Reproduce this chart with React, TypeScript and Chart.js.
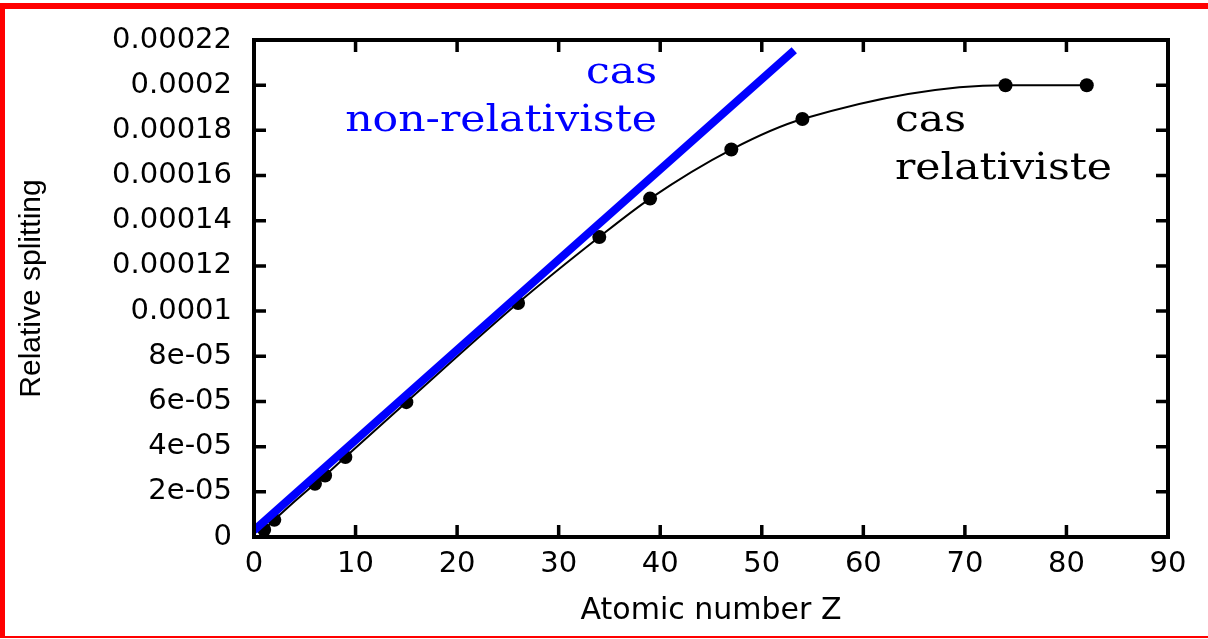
import React, { useEffect, useRef } from 'react';
import { Chart, registerables } from 'chart.js';

Chart.register(...registerables);

// Relativistic case: measured points (atomic number Z, relative splitting)
const atomicNumbers = [1, 2, 6, 7, 9, 15, 26, 34, 39, 47, 54, 74, 82];
const relativeSplitting = [
  3.2e-6, 7.6e-6, 2.36e-5, 2.72e-5, 3.54e-5, 5.97e-5, 1.036e-4, 1.328e-4,
  1.498e-4, 1.715e-4, 1.85e-4, 2.0e-4, 2.0e-4,
];

// Non-relativistic case: straight line
const nonRelZ = [0, 53.2];
const nonRelValues = [2.9e-6, 2.155e-4];

const xTickValues = [0, 10, 20, 30, 40, 50, 60, 70, 80, 90];
const yTickValues = [
  0, 2e-5, 4e-5, 6e-5, 8e-5, 1e-4, 1.2e-4, 1.4e-4, 1.6e-4, 1.8e-4, 2e-4, 2.2e-4,
];
const yTickLabels = [
  '0', '2e-05', '4e-05', '6e-05', '8e-05', '0.0001', '0.00012', '0.00014',
  '0.00016', '0.00018', '0.0002', '0.00022',
];

const blueLabel = ['cas', 'non-relativiste'];
const blackLabel = ['cas', 'relativiste'];

const BLUE = '#0000ff';

const framePlugin = {
  id: 'frameTicks',
  afterDatasetsDraw(chart: any) {
    const { ctx, chartArea, scales } = chart;
    const { left, right, top, bottom } = chartArea;
    const x = scales.x;
    const y = scales.y;
    ctx.save();
    ctx.strokeStyle = '#000';
    ctx.lineWidth = 3.5;
    ctx.beginPath();
    const len = 12;
    xTickValues.forEach((v) => {
      const px = x.getPixelForValue(v);
      ctx.moveTo(px, bottom);
      ctx.lineTo(px, bottom - len);
      ctx.moveTo(px, top);
      ctx.lineTo(px, top + len);
    });
    yTickValues.forEach((v) => {
      const py = y.getPixelForValue(v);
      ctx.moveTo(left, py);
      ctx.lineTo(left + len, py);
      ctx.moveTo(right, py);
      ctx.lineTo(right - len, py);
    });
    ctx.stroke();
    ctx.lineWidth = 4;
    ctx.strokeRect(left, top, right - left, bottom - top);

    // annotations
    const sx = 1.12;
    ctx.font = "38px 'DejaVu Serif'";
    ctx.textBaseline = 'alphabetic';
    ctx.fillStyle = BLUE;
    ctx.textAlign = 'right';
    blueLabel.forEach((t, i) => {
      ctx.save();
      ctx.translate(left + 403, top + 43 + i * 48);
      ctx.scale(sx, 1);
      ctx.fillText(t, 0, 0);
      ctx.restore();
    });
    ctx.fillStyle = '#000';
    ctx.textAlign = 'left';
    blackLabel.forEach((t, i) => {
      ctx.save();
      ctx.translate(left + 641, top + 91 + i * 48);
      ctx.scale(sx, 1);
      ctx.fillText(t, 0, 0);
      ctx.restore();
    });
    ctx.restore();
  },
};

export default function App() {
  const ref = useRef<HTMLCanvasElement>(null);
  useEffect(() => {
    if (!ref.current) return;
    const chart = new Chart(ref.current, {
      type: 'line',
      data: {
        datasets: [
          {
            label: 'non-relativiste',
            data: nonRelZ.map((z, i) => ({ x: z, y: nonRelValues[i] })),
            borderColor: BLUE,
            borderWidth: 8,
            pointRadius: 0,
            borderCapStyle: 'butt',
            order: 0,
          },
          {
            label: 'relativiste',
            data: atomicNumbers.map((z, i) => ({ x: z, y: relativeSplitting[i] })),
            borderColor: '#000',
            borderWidth: 2,
            pointRadius: 7,
            pointBackgroundColor: '#000',
            pointBorderWidth: 0,
            cubicInterpolationMode: 'monotone',
            order: 1,
          },
        ],
      },
      options: {
        animation: false,
        responsive: false,
        events: [],
        layout: { padding: { left: 0, top: 40, right: 40, bottom: 0 } },
        plugins: { legend: { display: false }, tooltip: { enabled: false } },
        scales: {
          x: {
            type: 'linear',
            min: 0,
            max: 90,
            grid: { display: false, drawTicks: false },
            border: { display: false },
            afterBuildTicks: (s: any) => {
              s.ticks = xTickValues.map((v) => ({ value: v }));
            },
            afterFit: (s: any) => {
              s.height = 102;
            },
            ticks: {
              color: '#000',
              padding: 10,
              maxRotation: 0,
              autoSkip: false,
              font: { family: 'DejaVu Sans', size: 29 },
              callback: (v: any) => String(v),
            },
            title: {
              display: true,
              text: 'Atomic number Z',
              color: '#000',
              font: { family: 'DejaVu Sans', size: 30 },
              padding: { top: 0, bottom: 10 },
            },
          },
          y: {
            type: 'linear',
            min: 0,
            max: 2.2e-4,
            grid: { display: false, drawTicks: false },
            border: { display: false },
            afterBuildTicks: (s: any) => {
              s.ticks = yTickValues.map((v) => ({ value: v }));
            },
            afterFit: (s: any) => {
              s.width = 254;
            },
            ticks: {
              color: '#000',
              padding: 22,
              autoSkip: false,
              font: { family: 'DejaVu Sans', size: 29 },
              callback: (_v: any, i: number) => yTickLabels[i],
            },
            title: {
              display: true,
              text: 'Relative splitting',
              color: '#000',
              font: { family: 'Liberation Sans', size: 30 },
              padding: { top: 14, bottom: 0 },
            },
          },
        },
      },
      plugins: [framePlugin],
    } as any);
    return () => chart.destroy();
  }, []);

  return (
    <div style={{ position: 'absolute', left: 0, top: 0, width: 1208, height: 639, background: '#fff' }}>
      <canvas ref={ref} width={1208} height={639} style={{ position: 'absolute', left: 0, top: 0 }} />
      <div
        style={{
          position: 'absolute',
          left: 0,
          top: 3,
          width: 1208,
          height: 635,
          boxSizing: 'border-box',
          borderTop: '6px solid #ff0000',
          borderLeft: '5px solid #ff0000',
          borderBottom: '2px solid #ff0000',
          pointerEvents: 'none',
        }}
      />
    </div>
  );
}
